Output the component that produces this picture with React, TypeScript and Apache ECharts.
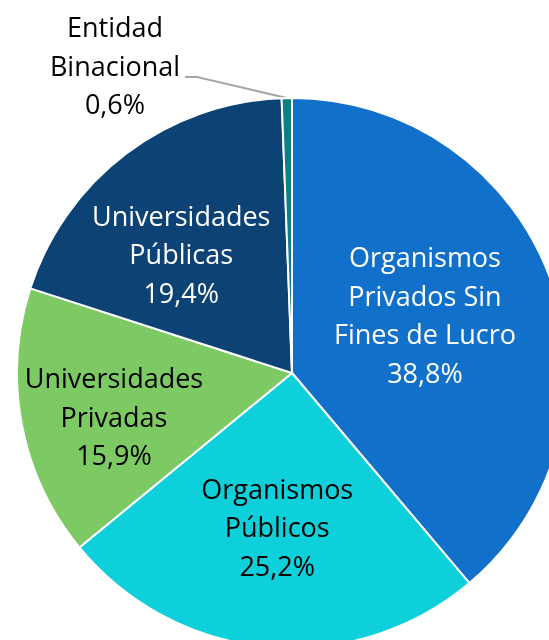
import React, { useEffect, useRef } from 'react';
import * as echarts from 'echarts';

const categories = [
  'Organismos\nPrivados Sin\nFines de Lucro',
  'Organismos\nPúblicos',
  'Universidades\nPrivadas',
  'Universidades\nPúblicas',
  'Entidad\nBinacional',
];
const values = [38.8, 25.2, 15.9, 19.4, 0.6];
const colors = ['#1170C9', '#0DD0DA', '#7DCA64', '#0D4275', '#0E7F80'];
const labelColors = ['#ffffff', '#000000', '#000000', '#ffffff', '#000000'];
const labelShift: number[][] = [[1, -10], [-2, 14], [-40, 17], [-26, -7], [0, 0]];

const fmt = (v: number) => v.toFixed(1).replace('.', ',') + '%';

export default function App() {
  const ref = useRef<HTMLDivElement>(null);
  useEffect(() => {
    if (!ref.current) return;
    const chart = echarts.init(ref.current, undefined, { renderer: 'svg' });
    const data = categories.map((name, i) => ({
      name,
      value: values[i],
      itemStyle: { color: colors[i] },
      label: {
        position: i === 4 ? 'outside' : 'inside',
        color: labelColors[i],
      },
      labelLine: { show: i === 4 },
    }));
    chart.setOption({
      animation: false,
      series: [
        {
          type: 'pie',
          center: [292, 373],
          radius: [0, 275],
          startAngle: 90,
          clockwise: true,
          avoidLabelOverlap: false,
          itemStyle: { borderColor: '#ffffff', borderWidth: 2 },
          label: {
            show: true,
            fontFamily: '"Open Sans", "Noto Sans", sans-serif',
            fontSize: 27,
            lineHeight: 38.5,
            align: 'center',
            formatter: (p: any) => `${p.name}\n${fmt(p.value)}`,
          },
          labelLine: {
            show: false,
            length: 10,
            length2: 10,
            lineStyle: { color: '#A6A6A6', width: 2 },
          },
          labelLayout: (p: any) => {
            const i = p.dataIndex;
            if (i === 4) {
              const start = p.labelLinePoints && p.labelLinePoints[0] ? p.labelLinePoints[0] : [287, 97];
              return {
                x: 115,
                y: 65,
                align: 'center',
                verticalAlign: 'middle',
                labelLinePoints: [start, [197, 77], [185, 77]],
              };
            }
            return { dx: labelShift[i][0], dy: labelShift[i][1] };
          },
          data,
        },
      ],
    });
    return () => chart.dispose();
  }, []);
  return (
    <div
      ref={ref}
      style={{ position: 'fixed', left: 0, top: 0, width: 549, height: 640 }}
    />
  );
}
